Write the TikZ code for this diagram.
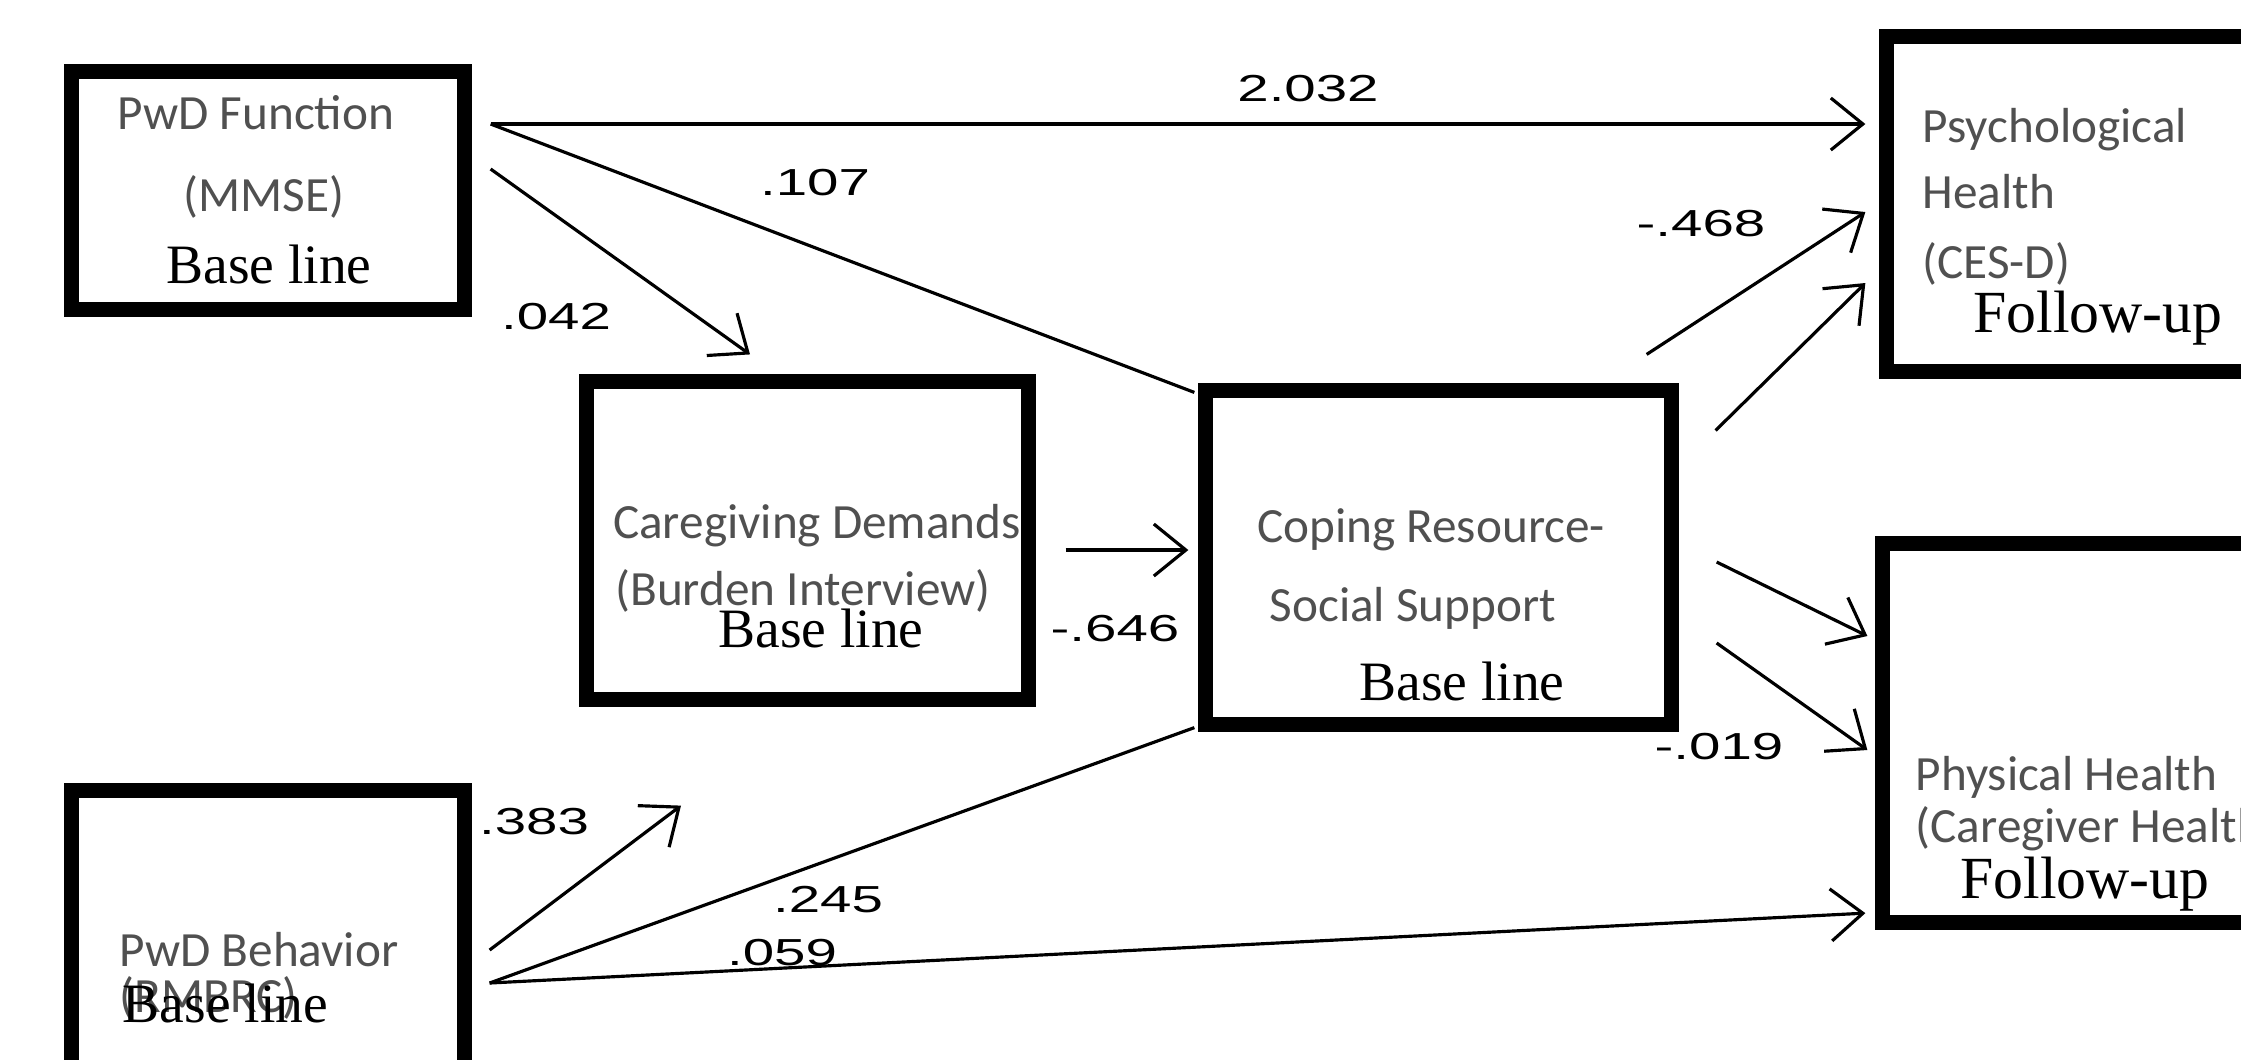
\documentclass[tikz,border=0pt]{standalone}
\usepackage{fontspec}
\usepackage{tikz}
\usetikzlibrary{arrows.meta, calc}
\setmainfont{Liberation Serif}
\newfontfamily\boxfont{Carlito}
\newfontfamily\coeffont[FakeStretch=1.5]{Liberation Sans}
\definecolor{boxgray}{HTML}{505050}

\begin{document}
\begin{tikzpicture}[x=0.01cm, y=-0.01cm,
  varbox/.style={
    draw=black, line width=0.15cm, inner sep=0pt, fill=white,
    path picture={
      \fill ([yshift=-0.105cm]path picture bounding box.north west) rectangle (path picture bounding box.north east);
      \fill (path picture bounding box.south west) rectangle ([yshift=0.105cm]path picture bounding box.south east);
    }
  },
  link/.style={line width=0.9pt, -{Straight Barb[length=0.32cm, width=0.52cm, line width=0.9pt]}},
  plainlink/.style={line width=0.9pt},
  vartext/.style={font=\boxfont\fontsize{14}{16}\selectfont, text=boxgray, inner sep=0pt, anchor=base},
  stagetext/.style={font=\fontsize{15.8}{18}\selectfont, inner sep=0pt, anchor=base},
  followtext/.style={font=\fontsize{17}{19}\selectfont, inner sep=0pt, anchor=base},
  coef/.style={font=\coeffont\fontsize{10.7}{12}\selectfont, inner sep=0pt}
]

\useasboundingbox (0,0) rectangle (2241,1059);
\fill[white] (0,0) rectangle (2241,1059);
\clip (0,0) rectangle (2241,1059);

\node[varbox, minimum width=3.93cm, minimum height=2.38cm] (fn) at (268,190.5) {};
\node[varbox, minimum width=4.42cm, minimum height=3.18cm] (cd) at (807.5,540.5) {};
\node[varbox, minimum width=4.66cm, minimum height=3.34cm] (cr) at (1438.5,557.5) {};
\node[varbox, minimum width=4.36cm, minimum height=3.35cm] (ph) at (2104.5,204) {};
\node[varbox, minimum width=4.40cm, minimum height=3.79cm] (py) at (2102.5,733) {};
\node[varbox, minimum width=3.93cm, minimum height=3.22cm] (bh) at (268,951.5) {};

\node[vartext] (fn1) at (256,129) {PwD Function};
\node[vartext] (fn2) at (264,211) {(MMSE)};
\node[stagetext] (fn3) at (269,283) {Base line};

\node[vartext] (cd1) at (817,538) {Caregiving Demands};
\node[vartext] (cd2) at (803,605) {(Burden Interview)};
\node[stagetext] (cd3) at (821,647) {Base line};

\node[vartext] (cr1) at (1431,542) {Coping Resource-};
\node[vartext] (cr2) at (1413,621) {Social Support};
\node[stagetext] (cr3) at (1462,700) {Base line};

\node[vartext, anchor=base west] (ph1) at (1922,142) {Psychological};
\node[vartext, anchor=base west] (ph2) at (1922,208) {Health};
\node[vartext, anchor=base west] (ph3) at (1922,278) {(CES-D)};
\node[followtext] (ph4) at (2098,332) {Follow-up};

\node[vartext, anchor=base west] (py1) at (1915,790) {Physical Health};
\node[vartext, anchor=base west] (py2) at (1915,842) {(Caregiver Health)};
\node[followtext] (py3) at (2085,898) {Follow-up};

\node[vartext, anchor=base west] (bh1) at (119,966) {PwD Behavior};
\node[vartext, anchor=base west] (bh2) at (119,1012) {(RMBRC)};
\node[stagetext, anchor=base west] (bh3) at (122,1022) {Base line};

\draw[link] ([shift={(18.5,-66.5)}]fn.east) -- ([shift={(-13.5,-80)}]ph.west);
\draw[plainlink] ([shift={(18.5,-66.5)}]fn.east) -- ([shift={(-3.5,9.5)}]cr.north west);
\draw[link] ([shift={(18.5,-21.5)}]fn.east) -- ([shift={(-57.5,-19.5)}]cd.north);
\draw[link] ([shift={(29.5,9.5)}]cd.east) -- ([shift={(-9.5,-7.5)}]cr.west);
\draw[link] ([shift={(17.5,-1.5)}]bh.east) -- ([shift={(-126.5,98.5)}]cd.south);
\draw[plainlink] ([shift={(17.5,31.5)}]bh.east) -- ([shift={(-3.5,-4.5)}]cr.south west);
\draw[link] ([shift={(17.5,31.5)}]bh.east) -- ([shift={(-9.5,-17)}]py.south west);
\draw[link] ([shift={(-32.5,-28.5)}]cr.north east) -- ([shift={(-13.5,8)}]ph.west);
\draw[link] ([shift={(36.5,47.5)}]cr.north east) -- ([shift={(-13.5,79)}]ph.west);
\draw[link] ([shift={(37.5,4.5)}]cr.east) -- ([shift={(-7.5,-97)}]py.west);
\draw[link] ([shift={(37.5,85.5)}]cr.east) -- ([shift={(-7.5,17)}]py.west);

\node[coef] (c2032) at (1308,89) {2.032};
\node[coef] (c107) at (815,183) {.107};
\node[coef] (c042) at (556,317) {.042};
\node[coef] (c646) at (1115,629) {-.646};
\node[coef] (c383) at (534,822) {.383};
\node[coef] (c245) at (828,900) {.245};
\node[coef] (c059) at (782,953) {.059};
\node[coef] (c468) at (1701,224) {-.468};
\node[coef] (c019) at (1719,747) {-.019};

\end{tikzpicture}
\end{document}
